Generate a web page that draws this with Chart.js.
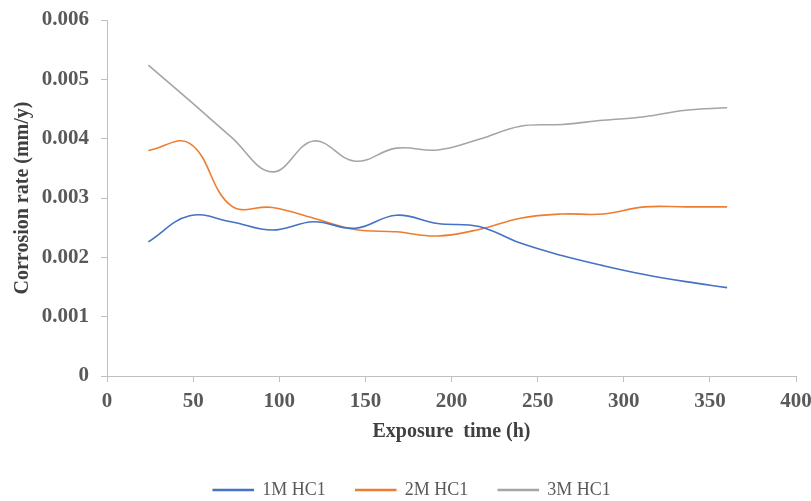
<!DOCTYPE html>
<html>
<head>
<meta charset="utf-8">
<script src="https://cdn.jsdelivr.net/npm/chart.js@4"></script>
<style>
  html, body { margin: 0; padding: 0; background: #fff; }
  #wrap { width: 811px; height: 501px; }
</style>
</head>
<body>
<div id="wrap"><canvas id="myChart" width="811" height="501"></canvas></div>
<script>
// exposure time (h)
const hours = [24, 48, 72, 96, 120, 144, 168, 192, 216, 240, 264, 288, 312, 336, 360]
// corrosion rate (mm/y)
const hcl1M = [0.00226, 0.00270, 0.00260, 0.00246, 0.00260, 0.00249, 0.00271, 0.00257, 0.00252, 0.00224, 0.00203, 0.00186, 0.00171, 0.00159, 0.00149]
const hcl2M = [0.00380, 0.00392, 0.00287, 0.00284, 0.00266, 0.00247, 0.00243, 0.00236, 0.00247, 0.00266, 0.00273, 0.00273, 0.00285, 0.00285, 0.00285]
const hcl3M = [0.00524, 0.00464, 0.00403, 0.00344, 0.00396, 0.00362, 0.00384, 0.00381, 0.00399, 0.00421, 0.00424, 0.00431, 0.00437, 0.00448, 0.00452]
const seriesNames = ['1M HC1', '2M HC1', '3M HC1']
const xTicks = [0, 50, 100, 150, 200, 250, 300, 350, 400]
const yTicks = [0, 0.001, 0.002, 0.003, 0.004, 0.005, 0.006]

const serif = '"Liberation Serif", "Times New Roman", serif'
const axisGray = '#bfbfbf'

function pts(ys) {
  return hours.map((h, i) => ({x: h, y: ys[i]}))
}

function line(label, ys, color) {
  return {
    label: label,
    data: pts(ys),
    borderColor: color,
    backgroundColor: color,
    borderWidth: 1.6,
    pointRadius: 0,
    tension: 0.4,
    fill: false
  }
}

// legend sits lower and a bit right of where chart.js puts it
const legendPlace = {
  id: 'legendPlace',
  beforeLayout(chart) {
    const lg = chart.legend
    if (lg && !lg._patched) {
      const fit = lg.fit
      lg.fit = function () {
        fit.call(this)
        this.height = 50
      }
      lg._patched = true
    }
  },
  afterLayout(chart) {
    chart.legend.left += 14
    chart.legend.right += 14
  }
}

const ctx = document.getElementById('myChart').getContext('2d')
const myChart = new Chart(ctx, {
  type: 'line',
  data: {
    datasets: [
      line(seriesNames[0], hcl1M, '#4472c4'),
      line(seriesNames[1], hcl2M, '#ed7d31'),
      line(seriesNames[2], hcl3M, '#a5a5a5')
    ]
  },
  plugins: [legendPlace],
  options: {
    responsive: false,
    animation: false,
    layout: { padding: { top: 20, right: 15, left: 0, bottom: 0 } },
    plugins: {
      tooltip: { enabled: false },
      legend: {
        position: 'bottom',
        labels: {
          boxWidth: 40,
          boxHeight: 1,
          padding: 30,
          color: '#595959',
          font: { family: serif, size: 18 }
        }
      }
    },
    scales: {
      x: {
        type: 'linear',
        min: 0,
        max: 400,
        afterBuildTicks: s => { s.ticks = xTicks.map(v => ({value: v})) },
        afterFit: s => { s.height = 75; s.paddingRight = 0; s.paddingLeft = 0 },
        grid: { drawOnChartArea: false, drawTicks: true, tickLength: 6, color: axisGray },
        border: { color: axisGray, width: 1 },
        ticks: {
          padding: 7,
          color: '#595959',
          font: { family: serif, size: 21, weight: 'bold' }
        },
        title: {
          display: true,
          text: 'Exposure  time (h)',
          color: '#404040',
          padding: { top: 0, bottom: 7 },
          font: { family: serif, size: 20, weight: 'bold' }
        }
      },
      y: {
        min: 0,
        max: 0.006,
        afterBuildTicks: s => { s.ticks = yTicks.map(v => ({value: v})) },
        afterFit: s => { s.width = 107; s.paddingTop = 0; s.paddingBottom = 0 },
        grid: { drawOnChartArea: false, drawTicks: true, tickLength: 6, color: axisGray },
        border: { color: axisGray, width: 1 },
        ticks: {
          padding: 12,
          color: '#595959',
          font: { family: serif, size: 21, weight: 'bold' },
          callback: v => v === 0 ? '0' : v.toFixed(3)
        },
        title: {
          display: true,
          text: 'Corrosion rate (mm/y)',
          color: '#404040',
          padding: { top: 11, bottom: 0 },
          font: { family: serif, size: 20, weight: 'bold' }
        }
      }
    }
  }
})
</script>
</body>
</html>
